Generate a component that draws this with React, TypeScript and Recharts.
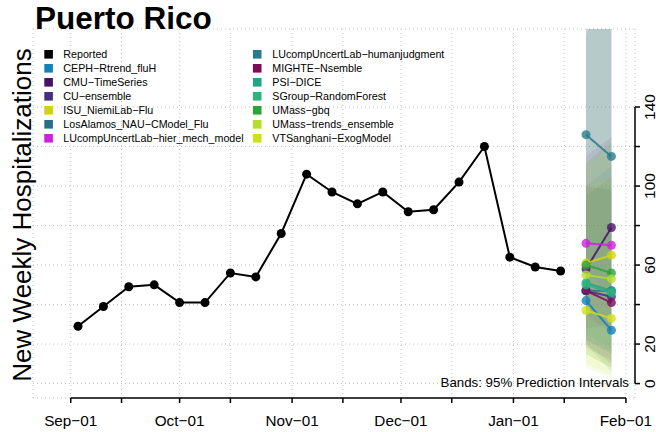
import React from "react";
import {
  ComposedChart,
  Line,
  Area,
  XAxis,
  YAxis,
  CartesianGrid,
  ReferenceLine,
} from "recharts";

const FONT = "'Liberation Sans', Arial, Helvetica, sans-serif";
const BASE = Date.UTC(2023, 8, 1);
const dayOf = (s: string) =>
  Math.round((Date.parse(s + "T00:00:00Z") - BASE) / 86400000);

// reported weekly hospitalizations
const reportedDates = [
  "2023-09-03", "2023-09-10", "2023-09-17", "2023-09-24", "2023-10-01",
  "2023-10-08", "2023-10-15", "2023-10-22", "2023-10-29", "2023-11-05",
  "2023-11-12", "2023-11-19", "2023-11-26", "2023-12-03", "2023-12-10",
  "2023-12-17", "2023-12-24", "2023-12-31", "2024-01-07", "2024-01-14",
];
const reportedValues = [
  29, 39, 49, 50, 41, 41, 56, 54, 76, 106, 97, 91, 97, 87, 88, 102, 120, 64, 59, 57,
];

// forecasts
const forecastDates = ["2024-01-21", "2024-01-28"];
const models = [
  "CEPH−Rtrend_fluH",
  "CMU−TimeSeries",
  "CU−ensemble",
  "ISU_NiemiLab−Flu",
  "LosAlamos_NAU−CModel_Flu",
  "LUcompUncertLab−hier_mech_model",
  "LUcompUncertLab−humanjudgment",
  "MIGHTE−Nsemble",
  "PSI−DICE",
  "SGroup−RandomForest",
  "UMass−gbq",
  "UMass−trends_ensemble",
  "VTSanghani−ExogModel",
];
const modelColors = [
  "#1580b8", "#4b1166", "#472f7d", "#cfd608", "#2b6c8a", "#cc22dd", "#287a8c",
  "#7a0c5a", "#22a386", "#2db47c", "#2ca538", "#b3dd2f", "#cde01a",
];
const medians = [
  [42, 27], [58, 79], [47, 44], [61, 65], [47, 47], [71, 70], [126, 115],
  [47, 41], [51, 47], [50, 46], [60, 56], [55, 53], [37, 33],
];
const lower95 = [
  [20, 6], [28, 30], [18, 12], [15, 8], [22, 15], [35, 25], [60, 40],
  [20, 10], [22, 16], [25, 18], [15, 8], [8, 3], [10, 4],
];
const upper95 = [
  [100, 110], [183, 215], [95, 105], [110, 125], [182, 200], [115, 125], [176, 215],
  [100, 98], [112, 122], [98, 100], [184, 198], [112, 118], [100, 104],
];

const xTickDates = [
  "2023-09-01", "2023-09-15", "2023-10-01", "2023-10-15", "2023-11-01",
  "2023-11-15", "2023-12-01", "2023-12-15", "2024-01-01", "2024-01-15", "2024-02-01",
];
const monthNames = ["Jan", "Feb", "Mar", "Apr", "May", "Jun", "Jul", "Aug", "Sep", "Oct", "Nov", "Dec"];
const yTicks = [0, 20, 40, 60, 80, 100, 120, 140];
const yLabelled = [0, 20, 60, 100, 140];

const X_DOMAIN = [-10.4, 155.5];
const Y_DOMAIN = [-7.3, 179.5];

const reportedData = reportedDates.map((d, i) => ({ x: dayOf(d), y: reportedValues[i] }));
const modelData = models.map((_, m) =>
  forecastDates.map((d, h) => ({
    x: dayOf(d),
    y: medians[m][h],
    range: [lower95[m][h], upper95[m][h]],
  }))
);
const xTicks = xTickDates.map(dayOf);

const XTick = (props: any) => {
  const { x, y, payload } = props;
  const d = new Date(BASE + payload.value * 86400000);
  const first = d.getUTCDate() === 1;
  return (
    <g>
      <line x1={x} x2={x} y1={y} y2={y + 5} stroke="#000" strokeWidth={1.5} />
      {first && (
        <text x={x} y={y + 28} textAnchor="middle" fontSize={15.3} fontFamily={FONT} fill="#000">
          {monthNames[d.getUTCMonth()] + "−01"}
        </text>
      )}
    </g>
  );
};

const YTick = (props: any) => {
  const { x, y, payload } = props;
  if (payload.value < 0 || payload.value > 140) return <g />;
  return (
    <g>
      <line x1={x} x2={x + 5} y1={y} y2={y} stroke="#000" strokeWidth={1.5} />
      {yLabelled.includes(payload.value) && (
        <text
          transform={`translate(${x + 14},${y}) rotate(-90)`}
          textAnchor="middle"
          dominantBaseline="central"
          fontSize={15.5}
          fontFamily={FONT}
          fill="#000"
        >
          {payload.value}
        </text>
      )}
    </g>
  );
};

const legendLeft = ["Reported", ...models.slice(0, 6)];
const legendLeftColors = ["#000000", ...modelColors.slice(0, 6)];
const legendRight = models.slice(6);
const legendRightColors = modelColors.slice(6);

export default function App() {
  return (
    <div
      style={{
        position: "absolute",
        left: 0,
        top: 0,
        width: 656,
        height: 432,
        background: "#fff",
        overflow: "hidden",
      }}
    >
      <ComposedChart
        width={656}
        height={432}
        margin={{ top: 29, right: 0, left: 33, bottom: 0 }}
        style={{ position: "absolute", left: 0, top: 0 }}
      >
        <CartesianGrid stroke="#c4c4c4" strokeDasharray="1 3" />
        <XAxis
          type="number"
          dataKey="x"
          domain={X_DOMAIN}
          allowDataOverflow
          ticks={xTicks}
          interval={0}
          tick={<XTick />}
          tickSize={0}
          tickMargin={0}
          axisLine={false}
          tickLine={false}
          height={34}
        />
        <YAxis
          orientation="right"
          type="number"
          domain={Y_DOMAIN}
          allowDataOverflow
          ticks={yTicks}
          interval={0}
          tick={<YTick />}
          tickSize={0}
          tickMargin={0}
          axisLine={false}
          tickLine={false}
          width={21}
        />
        <ReferenceLine
          segment={[{ x: xTicks[0], y: Y_DOMAIN[0] }, { x: xTicks[xTicks.length - 1], y: Y_DOMAIN[0] }]}
          stroke="#000"
          strokeWidth={1.5}
          ifOverflow="visible"
        />
        <ReferenceLine
          segment={[{ x: X_DOMAIN[1], y: 0 }, { x: X_DOMAIN[1], y: 140 }]}
          stroke="#000"
          strokeWidth={1.5}
          ifOverflow="visible"
        />
        {models.map((m, i) => (
          <Area
            key={"band-" + m}
            data={modelData[i]}
            dataKey="range"
            type="linear"
            stroke="none"
            fill={modelColors[i]}
            fillOpacity={0.1}
            dot={false}
            activeDot={false}
            isAnimationActive={false}
          />
        ))}
        <Line
          data={reportedData}
          dataKey="y"
          type="linear"
          stroke="#000"
          strokeWidth={2}
          dot={{ r: 4.5, fill: "#000", stroke: "none" }}
          activeDot={false}
          isAnimationActive={false}
        />
        {models.map((m, i) => (
          <Line
            key={"line-" + m}
            data={modelData[i]}
            dataKey="y"
            type="linear"
            stroke={modelColors[i]}
            strokeOpacity={0.85}
            strokeWidth={2}
            dot={{ r: 4.5, fill: modelColors[i], fillOpacity: 0.8, stroke: "none" }}
            activeDot={false}
            isAnimationActive={false}
          />
        ))}
      </ComposedChart>
      <svg
        width={656}
        height={432}
        style={{ position: "absolute", left: 0, top: 0, pointerEvents: "none" }}
        fontFamily={FONT}
      >
        <text x={35} y={29} fontSize={31.5} fontWeight="bold" fill="#000">
          Puerto Rico
        </text>
        <text
          transform="translate(31,215) rotate(-90)"
          textAnchor="middle"
          fontSize={26}
          fill="#000"
        >
          New Weekly Hospitalizations
        </text>
        {legendLeft.map((name, i) => (
          <g key={name}>
            <rect x={44.3} y={54.3 + i * 14 - 4.3} width={8.6} height={8.6} fill={legendLeftColors[i]} />
            <text x={63.3} y={54.3 + i * 14 + 3.9} fontSize={10.7} fill="#000">
              {name}
            </text>
          </g>
        ))}
        {legendRight.map((name, i) => (
          <g key={name}>
            <rect x={252.9} y={54.3 + i * 14 - 4.3} width={8.6} height={8.6} fill={legendRightColors[i]} />
            <text x={272.3} y={54.3 + i * 14 + 3.9} fontSize={10.7} fill="#000">
              {name}
            </text>
          </g>
        ))}
        <text x={629} y={386.5} textAnchor="end" fontSize={13.3} fill="#000">
          Bands: 95% Prediction Intervals
        </text>
      </svg>
    </div>
  );
}
